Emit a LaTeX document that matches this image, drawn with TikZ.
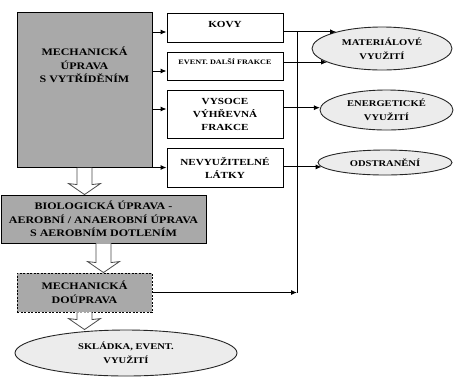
\documentclass[tikz,border=0pt]{standalone}
\usepackage{fontspec}
\setmainfont{Liberation Serif}[FakeStretch=1.2]
\usetikzlibrary{calc,arrows.meta,shapes.geometric}
\definecolor{boxgray}{HTML}{A9A9A9}
\definecolor{ellgray}{HTML}{ECECEC}
\newcommand\fntA{\bfseries\fontsize{10}{13.5}\selectfont}
\newcommand\fntB{\bfseries\fontsize{9.3}{13}\selectfont}
\newcommand\fntC{\bfseries\fontsize{6.8}{8}\selectfont}
\newcommand\fntD{\bfseries\fontsize{8.8}{14}\selectfont}
\newcommand\hollowarrow[2]{%
  \draw[barrow] let \p1=(#1.south), \p2=(#2.north) in
  (\x1-7.5pt,\y1) -- (\x1-7.5pt,\y2+10pt) -- (\x1-16pt,\y2+11pt) -- (\x1,\y2)
  -- (\x1+16pt,\y2+11pt) -- (\x1+7.5pt,\y2+10pt) -- (\x1+7.5pt,\y1);}
\begin{document}
\begin{tikzpicture}[x=1pt,y=-1pt,
  gbox/.style={draw=black, line width=0.9pt, fill=boxgray, inner sep=0pt, align=center, font=\fntA},
  wbox/.style={draw=black, line width=0.9pt, fill=white, inner sep=0pt, align=center, font=\fntB,
    minimum width=116pt},
  ell/.style={ellipse, draw=black!85, line width=0.9pt, fill=ellgray, inner sep=0pt, align=center, font=\fntD},
  txt/.style={inner sep=0pt, align=center},
  arr/.style={-{Latex[length=6pt,width=5pt]}, line width=1pt},
  barrow/.style={draw=black!70, line width=0.8pt, fill=white, line join=miter}]
\path[use as bounding box, fill=white] (0,0) rectangle (454,376);

% left column
\node[gbox, minimum width=135pt, minimum height=155pt] (mech) at (84.5,90) {};
\node[txt, font=\fntA] (mecht) at (84.5,65) {MECHANICKÁ\\ÚPRAVA\\S VYTŘÍDĚNÍM};
\node[gbox, minimum width=205pt, minimum height=48pt] (bio) at (103.5,219)
  {BIOLOGICKÁ ÚPRAVA -\\AEROBNÍ / ANAEROBNÍ ÚPRAVA\\S AEROBNÍM DOTLENÍM};
\node[gbox, dashed, dash pattern=on 2pt off 1.5pt, minimum width=135pt, minimum height=39pt] (dou) at (84.5,292.5)
  {MECHANICKÁ\\DOÚPRAVA};
\node[ell, minimum width=222pt, minimum height=46pt] (skl) at (126,353) {SKLÁDKA, EVENT.\\VYUŽITÍ};

% middle column
\node[wbox, minimum height=29pt] (kovy) at (225,27.5) {};
\node[txt, font=\fntB] (kovyt) at (225,24) {KOVY};
\node[wbox, minimum height=28pt] (event) at (225,66) {};
\node[txt, font=\fntC] (eventt) at (225,62) {EVENT. DALŠÍ FRAKCE};
\node[wbox, minimum height=48pt] (vys) at (225,114) {VYSOCE\\VÝHŘEVNÁ\\FRAKCE};
\node[wbox, minimum height=39pt] (nevy) at (225,167.5) {NEVYUŽITELNÉ\\LÁTKY};

% right column
\node[ell, minimum width=140pt, minimum height=43pt] (mat) at (382,48.5) {MATERIÁLOVÉ\\VYUŽITÍ};
\node[ell, minimum width=133pt, minimum height=40pt] (ene) at (386.5,110) {ENERGETICKÉ\\VYUŽITÍ};
\node[ell, minimum width=134pt, minimum height=25pt] (ods) at (385,162.5) {ODSTRANĚNÍ};

% connectors
\coordinate (top) at (297,32);
\coordinate (corner) at (297,292.5);
\draw[arr] (mech.east |- 0,32) -- (kovy.west |- 0,32);
\draw[arr] (mech.east |- 0,71) -- (event.west |- 0,71);
\draw[arr] (mech.east |- 0,109) -- (vys.west |- 0,109);
\draw[arr] (mech.east |- nevy.west) -- (nevy.west);

\draw[line width=1pt] (corner) -- (top);
\draw[arr] (dou.east) -- (corner);

\draw[arr] (kovy.east |- mat.160) -- (mat.160);
\draw[arr] (event.east |- mat.194) -- (mat.194);
\draw[arr] (vys.east |- ene.178) -- (ene.178);
\draw[arr] (nevy.east |- ods.184) -- (ods.184);

\hollowarrow{mech}{bio}
\hollowarrow{bio}{dou}
\hollowarrow{dou}{skl}
\end{tikzpicture}
\end{document}
